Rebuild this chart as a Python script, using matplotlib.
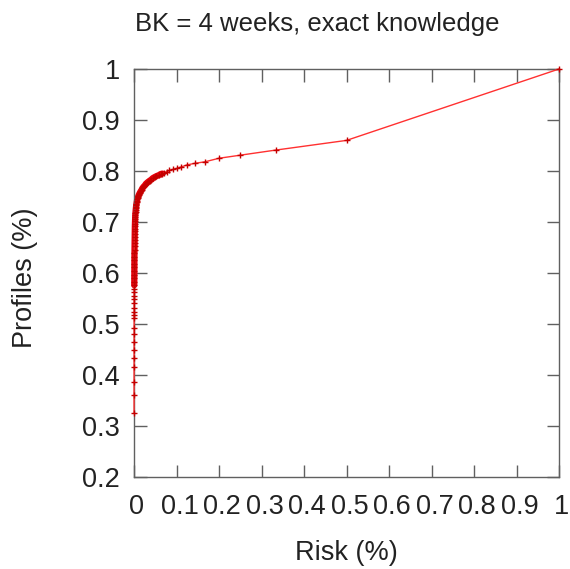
import matplotlib
matplotlib.use('Agg')
import matplotlib.pyplot as plt
import matplotlib.transforms as mtransforms

plt.rcParams['font.family'] = ['Liberation Sans', 'DejaVu Sans']

# risk (fraction of re-identification) vs fraction of profiles
risk = [0.0001, 0.0001, 0.0001, 0.0002, 0.0002, 0.0002, 0.0002, 0.0003, 0.0003,
        0.0003, 0.0003, 0.0004, 0.0004, 0.0004, 0.0005,
        0.0005, 0.0005, 0.0006, 0.0006, 0.0007, 0.0007, 0.0008, 0.0008, 0.0009,
        0.0009, 0.001, 0.001, 0.0011, 0.0012, 0.0013, 0.0014, 0.0015, 0.0016,
        0.0017, 0.0018, 0.0019, 0.002, 0.0022, 0.0024, 0.0026, 0.0028, 0.003,
        0.0033, 0.0036, 0.004, 0.0044, 0.0048, 0.0053, 0.0058, 0.0064, 0.007,
        0.0077, 0.0085, 0.0093, 0.0102, 0.0112, 0.0123, 0.0135, 0.0148, 0.0162,
        0.0178, 0.0195, 0.0213, 0.0233, 0.0256, 0.028, 0.0307, 0.0336, 0.0368,
        0.0403, 0.0441, 0.0483, 0.0529, 0.0588, 0.0625, 0.0667, 0.0714, 0.0769,
        0.0833, 0.0909,
        0.1, 0.1111, 0.125, 0.1429, 0.1667, 0.2, 0.25, 0.3333, 0.5, 1.0]
profiles = [0.325, 0.361, 0.386, 0.416, 0.433, 0.449, 0.465, 0.480, 0.492,
            0.512, 0.518, 0.524, 0.531, 0.541, 0.550,
            0.555, 0.562, 0.569, 0.576, 0.583, 0.590, 0.597, 0.604, 0.611,
            0.618, 0.625, 0.632, 0.639, 0.646, 0.653, 0.659, 0.665, 0.671,
            0.677, 0.682, 0.687, 0.692, 0.697, 0.702, 0.706, 0.710, 0.713,
            0.717, 0.720, 0.724, 0.727, 0.730, 0.733, 0.736, 0.739, 0.742,
            0.745, 0.747, 0.749, 0.751, 0.753, 0.755, 0.757, 0.759, 0.761,
            0.763, 0.766, 0.768, 0.770, 0.772, 0.775, 0.777, 0.779, 0.781,
            0.783, 0.786, 0.788, 0.790, 0.792, 0.794, 0.795, 0.797, 0.799,
            0.801, 0.803,
            0.805, 0.808, 0.812, 0.815, 0.818, 0.825, 0.831, 0.841, 0.860, 1.0]

xticks = [0, 0.1, 0.2, 0.3, 0.4, 0.5, 0.6, 0.7, 0.8, 0.9, 1]
xticklabels = ['0', '0.1', '0.2', '0.3', '0.4', '0.5', '0.6', '0.7', '0.8', '0.9', '1']
yticks = [0.2, 0.3, 0.4, 0.5, 0.6, 0.7, 0.8, 0.9, 1]
yticklabels = ['0.2', '0.3', '0.4', '0.5', '0.6', '0.7', '0.8', '0.9', '1']

fig = plt.figure(figsize=(5.7, 5.69), dpi=100)
ax = fig.add_axes([134 / 570, 1 - 477 / 569, 425 / 570, 408 / 569])

# where points are packed, the overlapping markers merge into a solid band
dense_x = [r for r, p in zip(risk, profiles) if 0.0005 <= r <= 0.07 and p >= 0.57]
dense_y = [p for r, p in zip(risk, profiles) if 0.0005 <= r <= 0.07 and p >= 0.57]
ax.plot(dense_x, dense_y, color='#e8000b', lw=4.5, solid_capstyle='round',
        zorder=2, clip_on=False)

ax.plot(risk, profiles, color='#ff3030', lw=1.0, marker='+', markersize=5,
        markeredgewidth=1.0, markeredgecolor='#c40000', zorder=3, clip_on=False)

ax.set_xlim(0, 1)
ax.set_ylim(0.2, 1)
ax.set_xticks(xticks)
ax.set_xticklabels(xticklabels)
ax.set_yticks(yticks)
ax.set_yticklabels(yticklabels)

for s in ax.spines.values():
    s.set_color('#606060')
    s.set_linewidth(1.0)
ax.tick_params(direction='in', length=9, width=1.0, color='#606060',
               labelsize=19.5, labelcolor='#222222', top=True, right=True)
ax.tick_params(axis='x', pad=12)
ax.tick_params(axis='y', pad=10)

# gnuplot puts x labels a little to the right of their ticks
shift = mtransforms.ScaledTranslation(3 / 100, 0, fig.dpi_scale_trans)
for lab in ax.get_xticklabels():
    lab.set_transform(lab.get_transform() + shift)

fig.text(317 / 570, 1 - 24 / 569, 'BK = 4 weeks, exact knowledge', fontsize=18.5,
         ha='center', va='center', color='#222222')
fig.text(346 / 570, 1 - 553 / 569, 'Risk (%)', fontsize=19.5,
         ha='center', va='center', color='#222222')
fig.text(25 / 570, 1 - 278 / 569, 'Profiles (%)', fontsize=19.5, rotation=90,
         ha='center', va='center', color='#222222')

plt.savefig('out.png', format='png', dpi=100)
plt.close()
